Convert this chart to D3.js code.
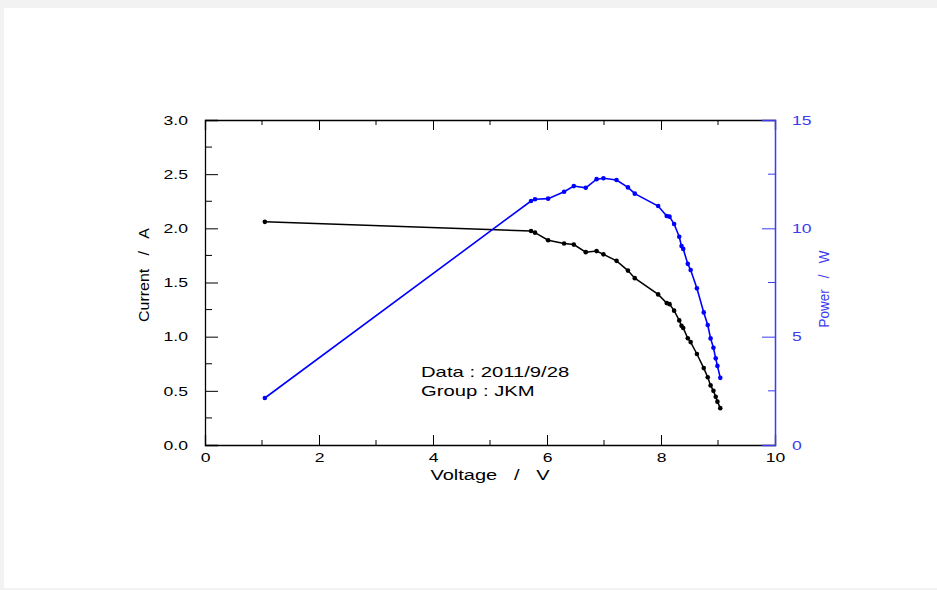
<!DOCTYPE html>
<html>
<head>
<meta charset="utf-8">
<script src="https://cdn.jsdelivr.net/npm/d3@7"></script>
<style>
    html, body { margin: 0; padding: 0; background: #f2f2f2; }
    #frame { position: absolute; left: 4px; top: 8px; width: 933px; height: 580px; background: #ffffff; }
    text { font-family: "Liberation Sans", Arial, sans-serif; }
</style>
</head>
<body>
<div id="frame"></div>
<script>

// measured I-V points (same voltage for both series)
const voltage = [1.05, 5.72, 5.79, 6.02, 6.30, 6.47, 6.68, 6.87, 6.99, 7.22, 7.42, 7.54, 7.95, 8.10, 8.15,
    8.23, 8.32, 8.36, 8.39, 8.47, 8.52, 8.63, 8.75, 8.82, 8.87, 8.92, 8.96, 8.99, 9.04];
const current = [2.06, 1.975, 1.96, 1.89, 1.86, 1.85, 1.78, 1.79, 1.76, 1.70, 1.61, 1.54, 1.39, 1.31, 1.30,
    1.24, 1.15, 1.10, 1.08, 0.985, 0.95, 0.84, 0.71, 0.625, 0.55, 0.50, 0.445, 0.40, 0.34];
const power = [2.17, 11.26, 11.34, 11.37, 11.69, 11.95, 11.87, 12.27, 12.31, 12.23, 11.89, 11.60, 11.03, 10.57, 10.54,
    10.20, 9.61, 9.18, 9.05, 8.36, 8.08, 7.23, 6.12, 5.54, 4.92, 4.49, 4.00, 3.65, 3.10];

const xTicks = [0, 2, 4, 6, 8, 10];
const yTicks = [0, 0.5, 1.0, 1.5, 2.0, 2.5, 3.0];
const pTicks = [0, 5, 10, 15];
const notes = ["Data : 2011/9/28", "Group : JKM"];

const blue = "#0000ff";
const axisBlue = "#3b3bf0";

// the original plot uses a wide sans face, so stretch text horizontally
function stretch(sel, k) {
    sel.each(function() {
        let len = this.getComputedTextLength();
        d3.select(this).attr("textLength", len * k).attr("lengthAdjust", "spacingAndGlyphs");
    });
}

let svg = d3.select("body").append("svg")
    .attr("width", 937)
    .attr("height", 590)
    .style("position", "absolute")
    .style("left", 0)
    .style("top", 0);

let margin = {left: 205, right: 775, top: 120, bottom: 445};

let x = d3.scaleLinear().domain([0, 10]).range([margin.left, margin.right]);
let y = d3.scaleLinear().domain([0, 3]).range([margin.bottom, margin.top]);
let yP = d3.scaleLinear().domain([0, 15]).range([margin.bottom, margin.top]);

// bottom axis, ticks inward
let xAxis = d3.axisBottom(x).tickValues(xTicks).tickSize(-10).tickPadding(14).tickFormat(d3.format("d"));
let gx = svg.append("g").attr("transform", `translate(0, ${margin.bottom})`).call(xAxis);
gx.selectAll("line.mn").data(d3.range(1, 10, 2)).enter().append("line")
    .attr("x1", d => x(d)).attr("x2", d => x(d)).attr("y1", 0).attr("y2", -5)
    .attr("stroke", "black");

// top axis (ticks only)
let gxt = svg.append("g").attr("transform", `translate(0, ${margin.top})`)
    .call(d3.axisTop(x).tickValues(xTicks).tickSize(-10).tickFormat(""));
gxt.selectAll("line.mn").data(d3.range(1, 10, 2)).enter().append("line")
    .attr("x1", d => x(d)).attr("x2", d => x(d)).attr("y1", 0).attr("y2", 5)
    .attr("stroke", "black");

// left axis
let yAxis = d3.axisLeft(y).tickValues(yTicks).tickSize(-13).tickPadding(30).tickFormat(d3.format(".1f"));
let gy = svg.append("g").attr("transform", `translate(${margin.left}, 0)`).call(yAxis);
gy.selectAll("line.mn").data(d3.range(0.25, 3, 0.5)).enter().append("line")
    .attr("x1", 0).attr("x2", 7).attr("y1", d => y(d)).attr("y2", d => y(d))
    .attr("stroke", "black");

// right axis (power)
let pAxis = d3.axisRight(yP).tickValues(pTicks).tickSize(-13).tickPadding(30);
let gp = svg.append("g").attr("transform", `translate(${margin.right}, 0)`).call(pAxis);
gp.selectAll("line.mn").data(d3.range(2.5, 15, 5)).enter().append("line")
    .attr("x1", 0).attr("x2", -7).attr("y1", d => yP(d)).attr("y2", d => yP(d))
    .attr("stroke", axisBlue);

[gx, gxt, gy].forEach(g => {
    g.select(".domain").attr("stroke", "black").attr("stroke-width", 1.3);
    g.selectAll(".tick line").attr("stroke", "black");
    g.selectAll("text").attr("font-size", "13.5px").attr("fill", "black")
        .attr("font-family", "Liberation Sans, Arial, sans-serif");
});
gp.select(".domain").attr("stroke", axisBlue).attr("stroke-width", 1.5);
gp.selectAll(".tick line").attr("stroke", axisBlue);
gp.selectAll("text").attr("font-size", "13.5px").attr("fill", axisBlue)
    .attr("text-anchor", "start").attr("dx", "-13px")
    .attr("font-family", "Liberation Sans, Arial, sans-serif");
gy.selectAll("text").attr("dx", "13px");
gx.selectAll("text").attr("dy", "0.2em");
stretch(gx.selectAll("text"), 1.3);
stretch(gy.selectAll("text"), 1.3);
stretch(gp.selectAll("text"), 1.3);

// axis titles
svg.append("text")
    .text("Voltage   /   V")
    .attr("x", 490).attr("y", 480)
    .attr("text-anchor", "middle")
    .attr("font-size", "14px")
    .attr("xml:space", "preserve")
    .attr("textLength", 119)
    .attr("lengthAdjust", "spacingAndGlyphs");

svg.append("text")
    .text("Current   /   A")
    .attr("transform", "translate(149, 275) rotate(-90)")
    .attr("text-anchor", "middle")
    .attr("font-size", "15px")
    .attr("xml:space", "preserve")
    .attr("textLength", 94)
    .attr("lengthAdjust", "spacingAndGlyphs");

svg.append("text")
    .text("Power   /   W")
    .attr("transform", "translate(829, 289) rotate(-90)")
    .attr("text-anchor", "middle")
    .attr("font-size", "15px")
    .attr("fill", axisBlue)
    .attr("xml:space", "preserve")
    .attr("textLength", 77)
    .attr("lengthAdjust", "spacingAndGlyphs");

// annotation
let noteText = svg.selectAll(".note").data(notes).enter().append("text")
    .attr("class", "note")
    .text(d => d)
    .attr("x", 421)
    .attr("y", (d, i) => 377 + i * 19)
    .attr("font-size", "15px");
stretch(noteText, 1.35);

// series
let rows = voltage.map((v, i) => ({v: v, i: current[i], p: power[i]}));

let lineI = d3.line().x(d => x(d.v)).y(d => y(d.i));
let lineP = d3.line().x(d => x(d.v)).y(d => yP(d.p));

svg.append("path").datum(rows)
    .attr("d", lineI)
    .attr("fill", "none")
    .attr("stroke", "black")
    .attr("stroke-width", 1.5);

svg.append("path").datum(rows)
    .attr("d", lineP)
    .attr("fill", "none")
    .attr("stroke", blue)
    .attr("stroke-width", 1.6);

svg.selectAll(".ptI").data(rows).enter().append("circle")
    .attr("class", "ptI")
    .attr("cx", d => x(d.v)).attr("cy", d => y(d.i))
    .attr("r", 2.3)
    .attr("fill", "black");

svg.selectAll(".ptP").data(rows).enter().append("circle")
    .attr("class", "ptP")
    .attr("cx", d => x(d.v)).attr("cy", d => yP(d.p))
    .attr("r", 2.3)
    .attr("fill", blue);

</script>
</body>
</html>
